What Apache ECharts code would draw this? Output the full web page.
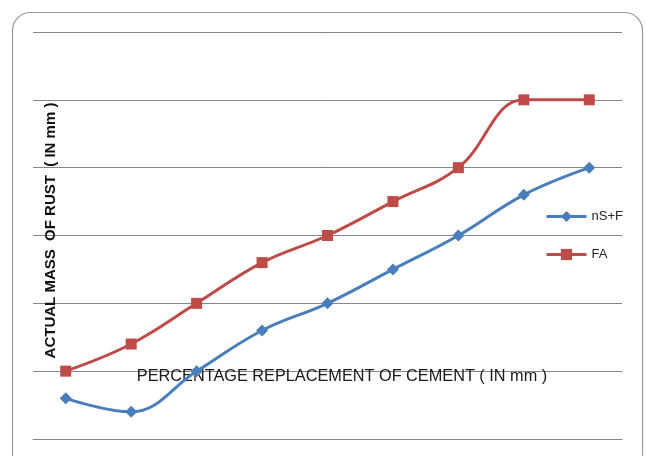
<!DOCTYPE html>
<html>
<head>
<meta charset="utf-8">
<script src="https://cdn.jsdelivr.net/npm/echarts@6/dist/echarts.min.js"></script>
<style>
  html, body { margin: 0; padding: 0; background: #ffffff; }
  #chart { width: 647px; height: 456px; }
</style>
</head>
<body>
<div id="chart"></div>
<script>
// Replacement steps along the horizontal axis (no tick labels are shown)
const categories = ['1', '2', '3', '4', '5', '6', '7', '8', '9'];
// Actual mass of rust for each mix
const nsfValues = [0.6, 0.4, 1.0, 1.6, 2.0, 2.5, 3.0, 3.6, 4.0];
const faValues = [1.0, 1.4, 2.0, 2.6, 3.0, 3.5, 4.0, 5.0, 5.0];
const seriesNames = ['nS+F', 'FA'];
const xTitle = 'PERCENTAGE REPLACEMENT OF CEMENT ( IN mm )';
const yTitle = 'ACTUAL MASS  OF RUST  ( IN mm )';

const chart = echarts.init(document.getElementById('chart'), null, { renderer: 'canvas' });

chart.setOption({
  animation: false,
  backgroundColor: '#ffffff',
  graphic: [{
    type: 'rect',
    shape: { x: 12.5, y: 12.5, width: 630, height: 460, r: 18 },
    style: { fill: 'none', stroke: '#9a9a9a', lineWidth: 1.2 },
    z: -1
  }],
  grid: { left: 33, right: 25, top: 32, bottom: 17 },
  legend: {
    orient: 'vertical',
    left: 540,
    top: 205,
    itemWidth: 40,
    itemHeight: 14,
    itemGap: 25,
    lineStyle: { width: 3 },
    textStyle: { fontFamily: 'Liberation Sans', fontSize: 13, color: '#262626' },
    data: seriesNames
  },
  xAxis: {
    type: 'category',
    data: categories,
    boundaryGap: true,
    name: xTitle,
    nameLocation: 'middle',
    nameGap: -70,
    nameTextStyle: {
      fontFamily: 'Liberation Sans', fontSize: 16.3, color: '#1a1a1a',
      padding: [0, 0, 0, 29]
    },
    axisLine: { show: true, lineStyle: { color: '#868686', width: 1 } },
    axisTick: { show: false },
    axisLabel: { show: false }
  },
  yAxis: {
    type: 'value',
    min: 0,
    max: 6,
    interval: 1,
    name: yTitle,
    nameLocation: 'middle',
    nameGap: -25,
    nameTextStyle: {
      fontFamily: 'Liberation Sans', fontSize: 15, fontWeight: 'bold', color: '#111111',
      padding: [0, 0, 0, 10]
    },
    axisLine: { show: false },
    axisTick: { show: false },
    axisLabel: { show: false },
    splitLine: { lineStyle: { color: '#868686', width: 1 } }
  },
  series: [
    {
      name: seriesNames[0],
      type: 'line',
      data: nsfValues,
      smooth: 0.4,
      symbol: 'diamond',
      symbolSize: 12,
      itemStyle: { color: '#4a7ebb' },
      lineStyle: { color: '#4a7ebb', width: 3 },
      z: 3
    },
    {
      name: seriesNames[1],
      type: 'line',
      data: faValues,
      smooth: 0.4,
      symbol: 'rect',
      symbolSize: 11,
      itemStyle: { color: '#be4b48' },
      lineStyle: { color: '#be4b48', width: 3 },
      z: 3
    }
  ]
});
</script>
</body>
</html>
